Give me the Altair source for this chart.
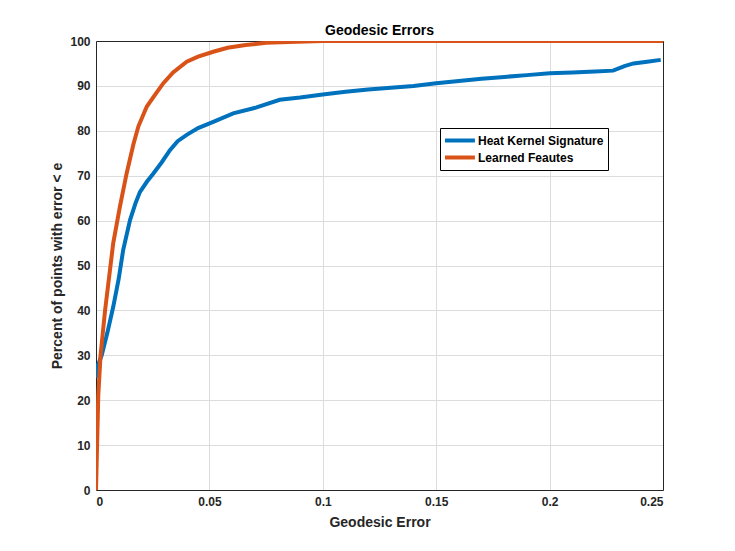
import altair as alt
import pandas as pd

series_names = ["Heat Kernel Signature", "Learned Feautes"]
colors = ["#0072BD", "#D95319"]

hks_x = [0, 0.0003, 0.0025, 0.005, 0.0076, 0.010, 0.012, 0.015, 0.0175, 0.0194, 0.0225,
         0.0253, 0.029, 0.0326, 0.036, 0.040, 0.045, 0.0517, 0.0605, 0.0708, 0.081, 0.09,
         0.1, 0.11, 0.12, 0.13, 0.14, 0.15, 0.16, 0.17, 0.18, 0.19, 0.2, 0.21, 0.22, 0.228,
         0.233, 0.237, 0.243, 0.249]
hks_y = [25, 27, 30, 35, 40.8, 47, 53.5, 60.1, 64, 66.4, 68.7, 70.5, 73, 75.7, 77.7, 79.1,
         80.6, 82.0, 83.9, 85.2, 86.9, 87.4, 88.1, 88.7, 89.2, 89.6, 90.0, 90.6, 91.1, 91.6,
         92.0, 92.4, 92.8, 93.0, 93.2, 93.4, 94.4, 95.0, 95.4, 95.8]

lf_x = [0, 0.001, 0.002, 0.004, 0.0076, 0.0105, 0.0135, 0.0165, 0.0187, 0.0224, 0.026,
        0.0297, 0.034, 0.040, 0.045, 0.0517, 0.058, 0.066, 0.075, 0.085, 0.1, 0.12, 0.25]
lf_y = [0, 21, 30, 40, 55, 63, 70.5, 77, 81, 85.4, 88, 90.6, 93, 95.4, 96.5, 97.6, 98.5,
        99.1, 99.6, 99.8, 100, 100, 100]

x_ticks = [0, 0.05, 0.1, 0.15, 0.2, 0.25]
y_ticks = list(range(0, 101, 10))

df_hks = pd.DataFrame({"x": hks_x, "y": hks_y, "series": series_names[0], "o": range(len(hks_x))})
df_lf = pd.DataFrame({"x": lf_x, "y": lf_y, "series": series_names[1], "o": range(len(lf_x))})

font = "Liberation Sans"
dark = "#262626"

color_scale = alt.Scale(domain=series_names, range=colors)
legend = alt.Legend(
    title=None, orient="none", legendX=344, legendY=87,
    symbolType="M-1.15,0H3.45", symbolStrokeWidth=4, symbolSize=169,
    labelFont=font, labelFontSize=12, labelFontWeight="bold", labelColor="#000000",
    labelOffset=17, strokeColor="#000000", fillColor="#ffffff",
    padding=4, rowPadding=0, labelLimit=300,
)

xscale = alt.Scale(domain=[0, 0.25], nice=False)
yscale = alt.Scale(domain=[0, 100], nice=False)
x_label_expr = "datum.value == 0 ? '0' : format(datum.value, '.2~f')"


def line(df, main):
    if main:
        xa = alt.Axis(values=x_ticks, title="Geodesic Error", labelExpr=x_label_expr,
                      grid=True, domain=True)
        ya = alt.Axis(values=y_ticks, title="Percent of points with error < e",
                      grid=True, domain=True)
    else:
        xa = alt.Axis(orient="top", values=x_ticks, labels=False, title=None,
                      grid=False, domain=True)
        ya = alt.Axis(orient="right", values=y_ticks, labels=False, title=None,
                      grid=False, domain=True)
    return alt.Chart(df).mark_line(strokeWidth=4, clip=True).encode(
        x=alt.X("x:Q", scale=xscale, axis=xa),
        y=alt.Y("y:Q", scale=yscale, axis=ya),
        order="o:Q",
        color=alt.Color("series:N", scale=color_scale, legend=legend),
    )


chart = alt.layer(line(df_hks, True), line(df_lf, False)).resolve_axis(
    x="independent", y="independent"
).properties(
    width=567, height=449,
    title=alt.TitleParams("Geodesic Errors", font=font, fontSize=14, fontWeight="bold",
                          color="#000000", offset=-3),
    autosize=alt.AutoSizeParams(type="none"),
    padding={"left": 88, "top": 33, "right": 60, "bottom": 50},
).configure_view(stroke=None).configure_axis(
    gridColor="#dcdcdc", gridWidth=1, ticks=False,
    domainColor=dark, domainWidth=1,
    labelFont=font, labelFontSize=12, labelFontWeight="bold", labelColor=dark,
    titleFont=font, titleFontSize=14, titleFontWeight="bold", titleColor=dark,
    labelPadding=6,
).configure_axisX(titlePadding=8).configure_axisY(titlePadding=5)

chart.save("out.html", embed_options={"renderer": "svg", "actions": False})
